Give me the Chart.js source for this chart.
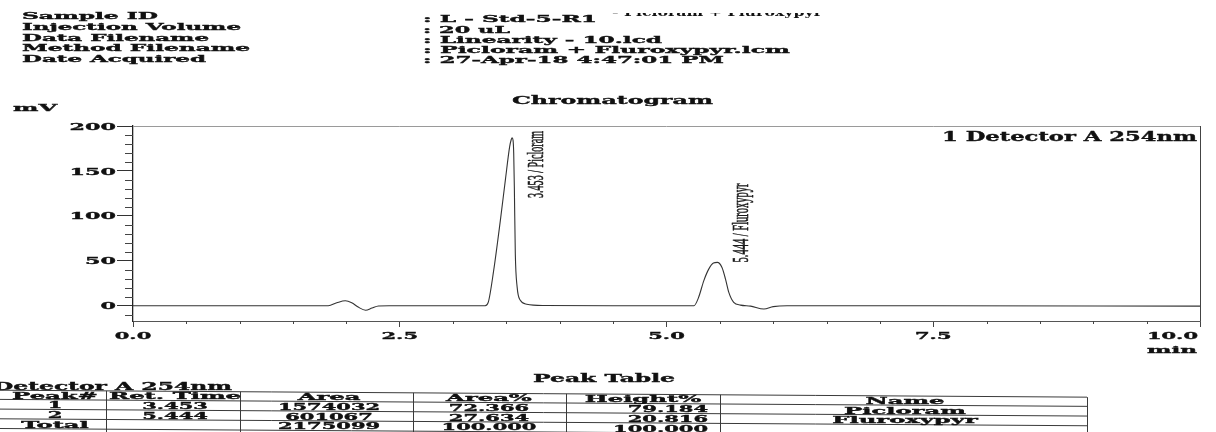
<!DOCTYPE html>
<html>
<head>
<meta charset="utf-8">
<title>Chromatogram - L - Std-5-R1</title>
<script src="https://cdn.jsdelivr.net/npm/chart.js@4.4.1/dist/chart.umd.min.js"></script>
<style>
  html, body { margin: 0; padding: 0; background: #fff; }
  #wrap { position: relative; width: 1216px; height: 432px; overflow: hidden; }
</style>
</head>
<body>
<div id="wrap"><canvas id="chromChart" width="1216" height="432"></canvas></div>
<script>
// Sample info block
const infoLabels = ['Sample ID', 'Injection Volume', 'Data Filename', 'Method Filename', 'Date Acquired'];
const infoValues = [': L - Std-5-R1', ': 20 uL', ': Linearity - 10.lcd', ': Picloram + Fluroxypyr.lcm', ': 27-Apr-18 4:47:01 PM'];

// Detector A trace (min / mV)
const traceTime = [0, 1.5, 1.83, 1.91, 1.99, 2.05, 2.11, 2.18, 2.24, 2.30, 2.40, 3.0,
    3.30, 3.33, 3.38, 3.443, 3.49, 3.53, 3.545, 3.553, 3.562, 3.568, 3.574, 3.583, 3.60, 3.63, 3.69, 3.85,
    4.5, 5.0, 5.257, 5.30, 5.35, 5.397, 5.44, 5.476, 5.52, 5.553, 5.584, 5.63, 5.694, 5.788, 5.913, 6.0, 6.13,
    7.5, 10.0];
const traceMv = [0, 0, 0, 3.3, 5.5, 3.3, -1.5, -5, -2.6, -0.3, 0, 0,
    0, 4, 39, 95, 140, 177, 185, 187, 184, 170, 132, 58, 21, 6, 1.7, 0.3,
    0, 0, 0, 9, 28, 41, 47.5, 48.2, 42.6, 29.6, 14.8, 3.7, 0.7, -0.4, -3.6, -1, 0,
    0, -0.5];

// Axis ticks
const xTicks = [0, 2.5, 5, 7.5, 10];
const xTickLabels = ['0.0', '2.5', '5.0', '7.5', '10.0'];
const yTicks = [0, 50, 100, 150, 200];
const yTickLabels = ['0', '50', '100', '150', '200'];

// Peak table
const peakNo = ['1', '2'];
const retTimes = [3.453, 5.444];
const peakAreas = [1574032, 601067];
const areaPct = [72.366, 27.634];
const heightPct = [79.184, 20.816];
const peakNames = ['Picloram', 'Fluroxypyr'];

const SERIF = '"DejaVu Serif", "Liberation Serif", serif';
const TIMES = '"Liberation Serif", "DejaVu Serif", serif';

// draw text squeezed/stretched like the scanned printout
function drawStretched(ctx, str, x, y, o) {
    const cap = o.cap || 6.8;
    const size = cap / (o.capRatio || 0.729);
    ctx.save();
    ctx.font = (o.weight || 'bold') + ' ' + size.toFixed(2) + 'px ' + (o.family || SERIF);
    ctx.fillStyle = o.color || '#111';
    ctx.strokeStyle = o.color || '#111';
    ctx.textBaseline = 'alphabetic';
    ctx.textAlign = 'left';
    const raw = ctx.measureText(str).width;
    const sx = o.w ? o.w / raw : (o.sx || 2.55);
    const w = raw * sx;
    let dx = 0;
    if (o.align === 'center') dx = -w / 2;
    else if (o.align === 'right') dx = -w;
    ctx.translate(x, y);
    if (o.rotate) ctx.rotate(o.rotate);
    ctx.scale(sx, 1);
    ctx.fillText(str, dx / sx, 0);
    // printout ink is heavy, thicken a bit
    const ink = o.ink === undefined ? 0.35 : o.ink;
    if (ink > 0) {
        ctx.lineWidth = ink;
        ctx.strokeText(str, dx / sx, 0);
    }
    ctx.restore();
}

function line(ctx, x1, y1, x2, y2, color, width) {
    ctx.save();
    ctx.strokeStyle = color;
    ctx.lineWidth = width || 1;
    ctx.beginPath();
    ctx.moveTo(x1, y1);
    ctx.lineTo(x2, y2);
    ctx.stroke();
    ctx.restore();
}

const printoutPlugin = {
    id: 'printout',
    afterDraw(chart) {
        const ctx = chart.ctx;
        const area = chart.chartArea;
        const xs = chart.scales.x;
        const ys = chart.scales.y;

        // frame top / right
        line(ctx, area.left, area.top + 0.5, area.right, area.top + 0.5, '#9a9a9a', 1);
        line(ctx, area.right + 0.5, area.top, area.right + 0.5, area.bottom, '#444', 1);

        // minor ticks
        for (let v = 0.5; v < 10; v += 0.5) {
            if (xTicks.includes(v)) continue;
            const px = Math.round(xs.getPixelForValue(v)) + 0.5;
            line(ctx, px, area.bottom, px, area.bottom + 3, '#444', 1);
        }
        for (let v = -10; v < 200; v += 10) {
            if (yTicks.includes(v)) continue;
            const py = Math.round(ys.getPixelForValue(v)) + 0.5;
            line(ctx, area.left - 8, py, area.left, py, '#444', 1);
        }

        // tick labels
        yTicks.forEach((v, i) => {
            drawStretched(ctx, yTickLabels[i], area.left - 17, ys.getPixelForValue(v) + 3.6,
                { align: 'right', cap: 7.2, sx: 2.25 });
        });
        xTicks.forEach((v, i) => {
            const last = i === xTicks.length - 1;
            drawStretched(ctx, xTickLabels[i], last ? area.right - 2 : xs.getPixelForValue(v), 338.5,
                { align: last ? 'right' : 'center', cap: 6.8, sx: 2.25 });
        });
        drawStretched(ctx, 'min', area.right - 3, 353.3, { align: 'right', cap: 6.8, w: 50 });
        drawStretched(ctx, 'mV', 13, 110.5, { cap: 7.3, w: 44 });
        drawStretched(ctx, 'Chromatogram', 512, 104, { cap: 8.5, w: 201 });
        drawStretched(ctx, '1 Detector A 254nm', area.right - 3, 141, { align: 'right', cap: 9, w: 255 });

        // peak annotations (rotated, reading upwards)
        retTimes.forEach((rt, i) => {
            let best = -1;
            traceTime.forEach((t, k) => {
                if (Math.abs(t - rt) < 0.3 && (best < 0 || traceMv[k] > traceMv[best])) best = k;
            });
            const label = rt.toFixed(3) + ' / ' + peakNames[i];
            const len = i === 0 ? 67 : 79;
            const apexPx = ys.getPixelForValue(traceMv[best]);
            const startY = Math.max(apexPx, area.top + 5 + len);
            drawStretched(ctx, label, xs.getPixelForValue(traceTime[best]) + 31, startY,
                { weight: 'normal', family: TIMES, capRatio: 0.662, cap: 15, w: len,
                  rotate: -Math.PI / 2, color: '#1a1a1a', ink: 0.6 });
        });

        // header block
        const leftW = [136, 219, 187, 228, 184];
        const leftY = [19.3, 29.5, 40.5, 51, 61.5];
        infoLabels.forEach((s, i) => drawStretched(ctx, s, 22, leftY[i], { cap: 6.7, w: leftW[i] }));
        const rightW = [174, 87, 239, 367, 301];
        const rightY = [21.5, 32.5, 42.7, 52.7, 63.3];
        infoValues.forEach((s, i) => drawStretched(ctx, s, 423, rightY[i], { cap: 7.2, w: rightW[i] }));

        // cut-off line at the very top of the scan
        ctx.save();
        ctx.beginPath();
        ctx.rect(600, 13, 240, 8);
        ctx.clip();
        drawStretched(ctx, '- Picloram + Fluroxypyr', 612, 15.5, { cap: 7.5, w: 210, ink: 0 });
        ctx.restore();

        // peak table
        drawStretched(ctx, 'Peak Table', 604, 381.5, { align: 'center', cap: 7.7, w: 142 });
        drawStretched(ctx, 'Detector A 254nm', -7, 389.5, { cap: 7.5, w: 239 });

        const slope = 0.0064;
        const rowLines = [390.2, 399.4, 409.1, 418.8, 428.5];
        const colX = [106, 240, 413, 566, 720, 1087];
        rowLines.forEach(y => line(ctx, 0, y, 1087, y + slope * 1087, '#3a3a3a', 1));
        colX.forEach(x => line(ctx, x + 0.5, rowLines[0] + slope * x, x + 0.5, 440, '#3a3a3a', 1));

        const totalArea = peakAreas.reduce((a, b) => a + b, 0);
        const totalAreaPct = areaPct.reduce((a, b) => a + b, 0);
        const totalHeightPct = heightPct.reduce((a, b) => a + b, 0);
        const rows = [
            ['Peak#', 'Ret. Time', 'Area', 'Area%', 'Height%', 'Name'],
            [peakNo[0], retTimes[0].toFixed(3), String(peakAreas[0]), areaPct[0].toFixed(3), heightPct[0].toFixed(3), peakNames[0]],
            [peakNo[1], retTimes[1].toFixed(3), String(peakAreas[1]), areaPct[1].toFixed(3), heightPct[1].toFixed(3), peakNames[1]],
            ['Total', '', String(totalArea), totalAreaPct.toFixed(3), totalHeightPct.toFixed(3), '']
        ];
        const cellX = [55, 175, 329, 489, 643, 905];
        rows.forEach((r, ri) => {
            const base = rowLines[ri + 1] - 1.2;
            r.forEach((s, ci) => {
                if (!s) return;
                const numeric = /^[0-9.]+$/.test(s);
                let x = cellX[ci];
                let align = 'center';
                if (ci === 4 && ri > 0) { x = 708; align = 'right'; }
                drawStretched(ctx, s, x, base + slope * x, { align, cap: 6.8, sx: numeric ? 2.25 : 2.6 });
            });
        });
    }
};

const ctx = document.getElementById('chromChart').getContext('2d');
new Chart(ctx, {
    type: 'line',
    data: {
        datasets: [{
            label: 'Detector A 254nm',
            data: traceTime.map((t, i) => ({ x: t, y: traceMv[i] })),
            borderColor: '#333',
            borderWidth: 1.1,
            pointRadius: 0,
            cubicInterpolationMode: 'monotone',
            fill: false
        }]
    },
    options: {
        responsive: false,
        animation: false,
        layout: { padding: { left: 133, top: 126, right: 16, bottom: 111 } },
        plugins: {
            legend: { display: false },
            tooltip: { enabled: false },
            title: { display: false }
        },
        scales: {
            x: {
                type: 'linear',
                min: 0,
                max: 10,
                afterBuildTicks: s => { s.ticks = xTicks.map(v => ({ value: v })); },
                afterFit: s => { s.height = 0; },
                ticks: { display: false },
                grid: { drawOnChartArea: false, tickLength: 6, tickColor: '#444' },
                border: { display: true, color: '#555', width: 1 }
            },
            y: {
                type: 'linear',
                min: -17,
                max: 200,
                afterBuildTicks: s => { s.ticks = yTicks.map(v => ({ value: v })); },
                afterFit: s => { s.width = 0; },
                ticks: { display: false },
                grid: { drawOnChartArea: false, tickLength: 16, tickColor: '#333' },
                border: { display: true, color: '#222', width: 1.3 }
            }
        }
    },
    plugins: [printoutPlugin]
});
</script>
</body>
</html>
